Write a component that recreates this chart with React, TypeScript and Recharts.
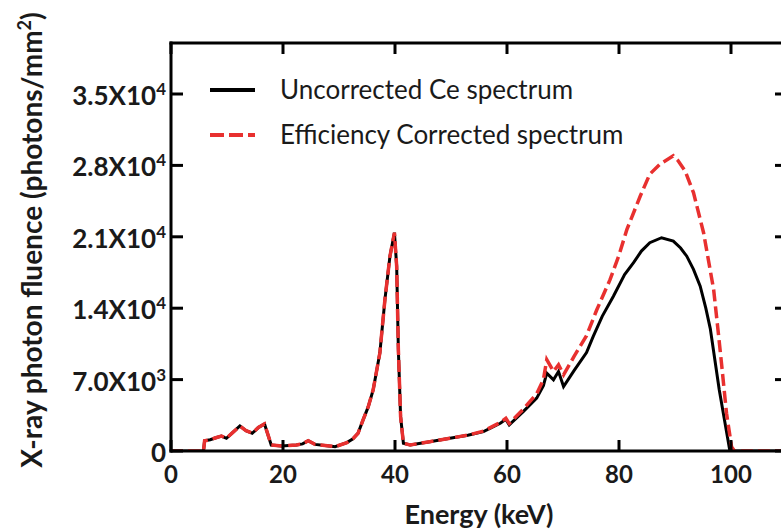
import { LineChart, Line, XAxis, YAxis } from 'recharts';

const energyTicks = [0, 20, 40, 60, 80, 100];
const fluenceTicks = [0, 7000, 14000, 21000, 28000, 35000];

const uncorrectedEnergy = [
  0, 5.8, 6.0, 7, 8, 9, 9.9, 11, 12.3, 13.4, 14.5, 15.6, 16.7, 17.9, 19.8, 21, 22.4, 23.5, 24.5, 25.7,
  27.5, 29.3, 31.4, 32.5, 33.4, 34.3, 35.2, 36.1, 36.7, 37.3, 38.2, 39.1, 39.9, 40.3, 40.6, 41.0, 41.5, 42.7, 46.2, 49.8,
  53, 55.8, 58.8, 59.8, 60.4, 62.9, 65.3, 66.5, 67.1, 68.3, 69.2, 70.1, 72, 74.2, 75.4, 77, 79, 81, 82.6, 84,
  85.5, 87.6, 89.7, 91, 92.1, 93.3, 94.5, 95.5, 96.3, 97.9, 99.8, 100.5, 110,
];
const uncorrectedFluence = [
  0, 0, 1000, 1100, 1300, 1470, 1250, 1800, 2450, 2000, 1740, 2300, 2650, 590, 490, 550, 590, 700, 1000, 650,
  550, 420, 820, 1200, 1740, 3050, 4300, 6000, 7800, 9630, 14850, 19100, 21400, 18100, 9930, 3370, 760, 590, 910, 1250,
  1550, 1900, 2720, 3100, 2560, 3860, 5180, 6400, 7640, 6980, 7800, 6320, 7900, 9650, 11240, 13200, 15170, 17300, 18460, 19600,
  20420, 20910, 20580, 19900, 19100, 17800, 16160, 14000, 12000, 6000, 0, 0, 0,
];

const correctedEnergy = [
  0, 5.8, 6.0, 7, 8, 9, 9.9, 11, 12.3, 13.4, 14.5, 15.6, 16.7, 17.9, 19.8, 21, 22.4, 23.5, 24.5, 25.7,
  27.5, 29.3, 31.4, 32.5, 33.4, 34.3, 35.2, 36.1, 36.7, 37.3, 38.2, 39.1, 39.9, 40.3, 40.6, 41.0, 41.5, 42.7, 46.2, 49.8,
  53, 55.8, 58.8, 59.8, 60.4, 62.9, 65.3, 66.5, 67.1, 68.3, 69.2, 70.1, 72, 74.2, 76, 78.4, 80, 81.4, 83.8, 85.5,
  87.3, 89.7, 90.5, 91.8, 93.3, 95.1, 96.9, 97.8, 98.3, 99.2, 100.1, 100.6, 110,
];
const correctedFluence = [
  0, 0, 1000, 1100, 1300, 1470, 1250, 1800, 2450, 2000, 1740, 2300, 2650, 590, 490, 550, 590, 700, 1000, 650,
  550, 420, 820, 1200, 1740, 3050, 4300, 6000, 7800, 9630, 14850, 19100, 21400, 18100, 9930, 3370, 760, 590, 910, 1250,
  1550, 1950, 2800, 3200, 2700, 4100, 5600, 7000, 8950, 7800, 8460, 7470, 9300, 11300, 13800, 16800, 19200, 21700, 25000, 27140,
  28120, 28940, 28500, 27460, 25330, 21400, 15830, 11240, 8620, 3700, 420, 0, 0,
];

const uncorrectedData = uncorrectedEnergy.map((e, i) => ({ energy: e, fluence: uncorrectedFluence[i] }));
const correctedData = correctedEnergy.map((e, i) => ({ energy: e, fluence: correctedFluence[i] }));

const FONT = 'Lato, "Open Sans", sans-serif';
const RED = '#e8302f';
const INK = '#1a1a1a';

const BottomTick = ({ x, y, payload }: any) => (
  <g>
    <line x1={x} x2={x} y1={y} y2={y - 11} stroke="#000" strokeWidth={3} />
    <text x={x} y={y + 32} textAnchor="middle" fontFamily={FONT} fontWeight={700} fontSize={24} fill={INK}>
      {payload.value}
    </text>
  </g>
);

const TopTick = ({ x, y }: any) => (
  <line x1={x} x2={x} y1={y} y2={y + 11} stroke="#000" strokeWidth={3} />
);

const LeftTick = ({ x, y, payload }: any) => {
  const v = payload.value;
  let label: any = '0';
  if (v !== 0) {
    const exp = Math.floor(Math.log10(v));
    const mant = (v / Math.pow(10, exp)).toFixed(1);
    label = [
      <tspan key="m">{mant}X10</tspan>,
      <tspan key="e" dy={-10} fontSize={17}>{exp}</tspan>,
    ];
  }
  return (
    <g>
      <line x1={x} x2={x + 12} y1={y} y2={y} stroke="#000" strokeWidth={3} />
      <text x={x - 5} y={y + 11} textAnchor="end" fontFamily={FONT} fontWeight={700} fontSize={26} fill={INK}>
        {label}
      </text>
    </g>
  );
};

const RightTick = ({ x, y }: any) => (
  <line x1={x} x2={x - 12} y1={y} y2={y} stroke="#000" strokeWidth={3} />
);

const axisStyle = { stroke: '#000', strokeWidth: 3, strokeLinecap: 'square' as const };

export default function App() {
  return (
    <div style={{ position: 'fixed', left: 0, top: 0, width: 781, height: 531, overflow: 'hidden', background: '#fff' }}>
      <LineChart width={800} height={531} margin={{ top: 42, right: 12, bottom: 79, left: 170 }}>
        <XAxis
          xAxisId="bottom"
          type="number"
          dataKey="energy"
          domain={[0, 110]}
          ticks={energyTicks}
          interval={0}
          height={1}
          tickSize={0}
          tickMargin={0}
          tickLine={false}
          axisLine={axisStyle}
          tick={<BottomTick />}
          allowDataOverflow
        />
        <XAxis
          xAxisId="top"
          orientation="top"
          type="number"
          dataKey="energy"
          domain={[0, 110]}
          ticks={energyTicks}
          interval={0}
          height={1}
          tickSize={0}
          tickMargin={0}
          tickLine={false}
          axisLine={axisStyle}
          tick={<TopTick />}
          allowDataOverflow
        />
        <YAxis
          yAxisId="left"
          type="number"
          domain={[0, 40000]}
          ticks={fluenceTicks}
          interval={0}
          width={1}
          tickSize={0}
          tickMargin={0}
          tickLine={false}
          axisLine={axisStyle}
          tick={<LeftTick />}
          allowDataOverflow
        />
        <YAxis
          yAxisId="right"
          orientation="right"
          type="number"
          domain={[0, 40000]}
          ticks={fluenceTicks}
          interval={0}
          width={1}
          tickSize={0}
          tickMargin={0}
          tickLine={false}
          axisLine={axisStyle}
          tick={<RightTick />}
          allowDataOverflow
        />
        <Line
          xAxisId="bottom"
          yAxisId="left"
          data={uncorrectedData}
          dataKey="fluence"
          name="Uncorrected Ce spectrum"
          type="linear"
          stroke="#000"
          strokeWidth={3}
          dot={false}
          activeDot={false}
          isAnimationActive={false}
        />
        <Line
          xAxisId="bottom"
          yAxisId="left"
          data={correctedData}
          dataKey="fluence"
          name="Efficiency Corrected spectrum"
          type="linear"
          stroke={RED}
          strokeWidth={3.5}
          strokeDasharray="12 5"
          dot={false}
          activeDot={false}
          isAnimationActive={false}
        />
      </LineChart>
      <svg width={781} height={531} style={{ position: 'absolute', left: 0, top: 0, pointerEvents: 'none' }}>
        <line x1={210} x2={255} y1={90} y2={90} stroke="#000" strokeWidth={4} />
        <text x={280} y={99} fontFamily={FONT} fontSize={26} fill={INK}>Uncorrected Ce spectrum</text>
        <line x1={210} x2={255} y1={135} y2={135} stroke={RED} strokeWidth={4} strokeDasharray="14 5" />
        <text x={280} y={144} fontFamily={FONT} fontSize={26} fill={INK}>Efficiency Corrected spectrum</text>
        <text x={479} y={524} textAnchor="middle" fontFamily={FONT} fontWeight={700} fontSize={27} fill={INK}>
          Energy (keV)
        </text>
        <text
          transform="translate(42, 240) rotate(-90)"
          textAnchor="middle"
          fontFamily={FONT}
          fontWeight={700}
          fontSize={28}
          fill={INK}
        >
          X-ray photon fluence (photons/mm<tspan dy={-11} fontSize={18}>2</tspan><tspan dy={11}>)</tspan>
        </text>
      </svg>
    </div>
  );
}
